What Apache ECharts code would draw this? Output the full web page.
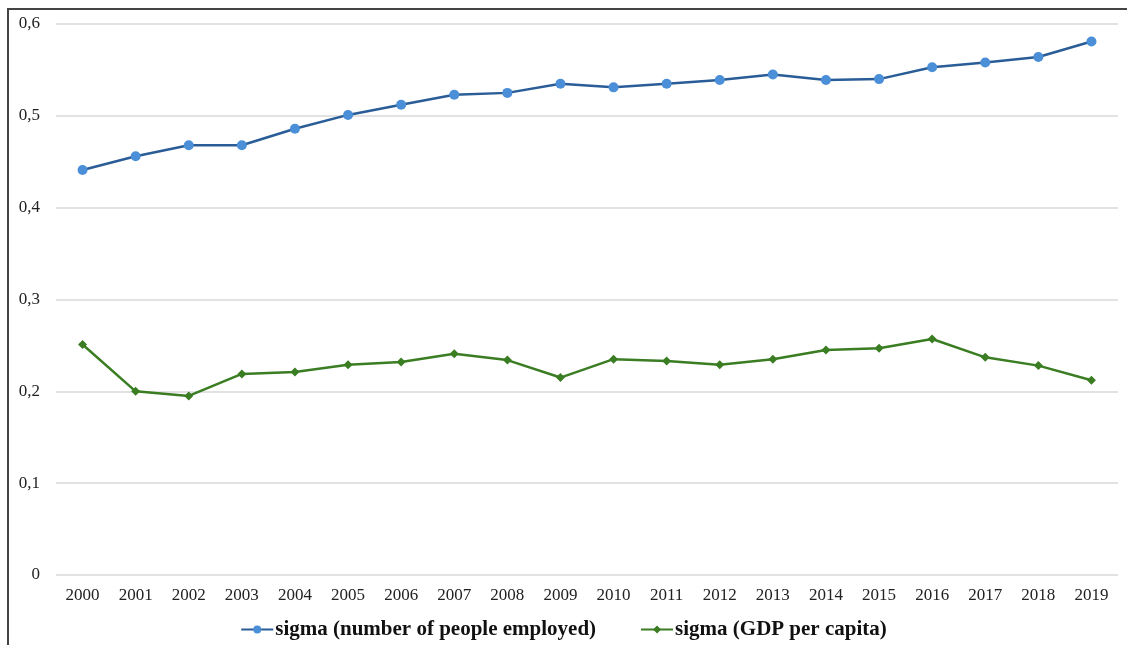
<!DOCTYPE html>
<html>
  <head>
    <meta charset="utf-8" />
    <title>sigma</title>
    <script src="https://cdn.jsdelivr.net/npm/echarts@6/dist/echarts.min.js"></script>
    <style>
      html, body {
        margin: 0;
        padding: 0;
        background-color: #fff;
      }
      #frame {
        position: absolute;
        left: 7px;
        top: 8px;
        width: 1127px;
        height: 645px;
        border-left: 2px solid #444;
        border-top: 2px solid #444;
      }
      #box {
        position: absolute;
        left: 0;
        top: 0;
        width: 1127px;
        height: 645px;
      }
    </style>
  </head>
  <body>
    <div id="frame"></div>
    <div id="box"></div>
    <script>
      var years = ['2000', '2001', '2002', '2003', '2004', '2005', '2006', '2007', '2008', '2009',
                   '2010', '2011', '2012', '2013', '2014', '2015', '2016', '2017', '2018', '2019'];
      // sigma (number of people employed)
      var employed = [0.441, 0.456, 0.468, 0.468, 0.486, 0.501, 0.512, 0.523, 0.525, 0.535,
                      0.531, 0.535, 0.539, 0.545, 0.539, 0.540, 0.553, 0.558, 0.564, 0.581];
      // sigma (GDP per capita)
      var gdp = [0.251, 0.200, 0.195, 0.219, 0.221, 0.229, 0.232, 0.241, 0.234, 0.215,
                 0.235, 0.233, 0.229, 0.235, 0.245, 0.247, 0.257, 0.237, 0.228, 0.212];
      var yTicks = [0, 0.1, 0.2, 0.3, 0.4, 0.5, 0.6];

      var chart = echarts.init(document.getElementById('box'));
      var serif = '"Liberation Serif", "DejaVu Serif", serif';
      var option = {
        animation: false,
        textStyle: { fontFamily: serif },
        grid: { left: 56, right: 9, top: 24, bottom: 70 },
        legend: {
          top: 614,
          left: 'center',
          itemWidth: 32,
          itemHeight: 10,
          itemGap: 44,
          textStyle: { fontFamily: serif, fontSize: 21, fontWeight: 'bold', color: '#111', padding: [0, 0, 0, -3] },
          data: ['sigma (number of people employed)', 'sigma (GDP per capita)']
        },
        xAxis: {
          type: 'category',
          data: years,
          boundaryGap: true,
          axisLine: { show: false },
          axisTick: { show: false },
          axisLabel: { fontFamily: serif, fontSize: 17, color: '#222', margin: 12 }
        },
        yAxis: {
          type: 'value',
          min: yTicks[0],
          max: yTicks[yTicks.length - 1],
          interval: 0.1,
          axisLine: { show: false },
          axisTick: { show: false },
          splitLine: { lineStyle: { color: '#d9d9d9', width: 1.5 } },
          axisLabel: {
            fontFamily: serif, fontSize: 17, color: '#222', margin: 16,
            formatter: function (v) { return (Math.round(v * 10) / 10).toString().replace('.', ','); }
          }
        },
        series: [
          {
            name: 'sigma (number of people employed)',
            type: 'line',
            data: employed,
            symbol: 'circle',
            symbolSize: 10,
            lineStyle: { color: '#2a5d97', width: 2.5 },
            itemStyle: { color: '#4a8fd8', borderWidth: 0 }
          },
          {
            name: 'sigma (GDP per capita)',
            type: 'line',
            data: gdp,
            symbol: 'diamond',
            symbolSize: 9,
            lineStyle: { color: '#3a7d22', width: 2.5 },
            itemStyle: { color: '#3a7d22', borderWidth: 0 }
          }
        ]
      };
      chart.setOption(option);
    </script>
  </body>
</html>
